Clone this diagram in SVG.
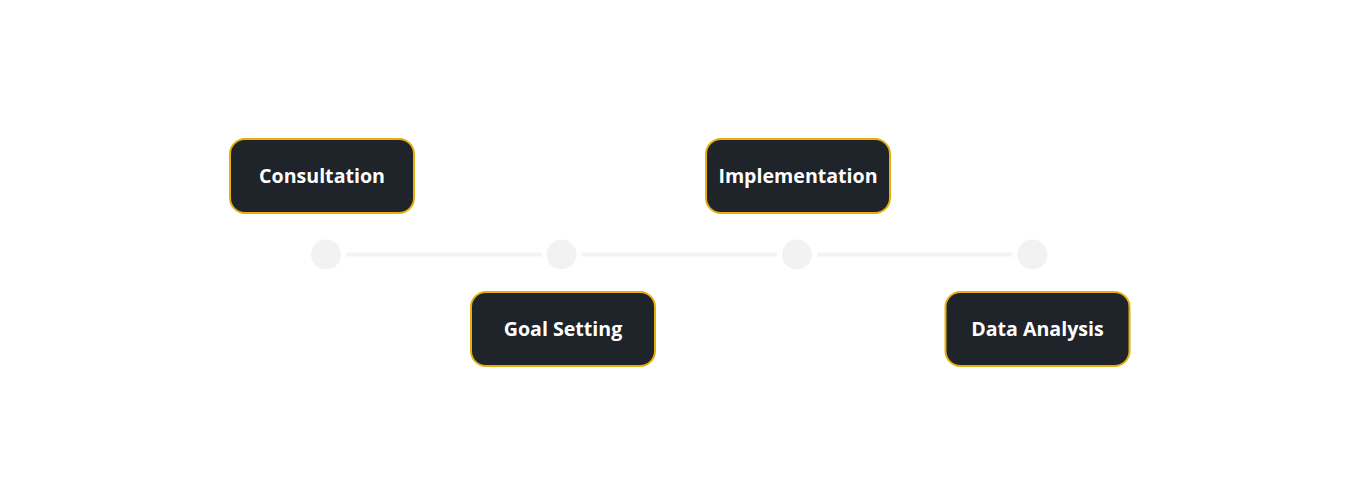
<svg xmlns="http://www.w3.org/2000/svg" width="1366" height="500" viewBox="0 0 1366 500">
<style>
.box{fill:#1f232a;stroke:#e6b00c;stroke-width:2}
.lbl{font-family:"Open Sans","Liberation Sans",sans-serif;font-weight:700;font-size:19.6px;fill:#ffffff;text-anchor:middle}
.dot{fill:#f2f2f2}
.line{stroke:#f3f3f3;stroke-width:4;fill:none}
</style>
<rect width="1366" height="500" fill="#ffffff"/>
<g id="connectors">
<line class="line" x1="346" y1="254.5" x2="542" y2="254.5"/>
<line class="line" x1="581.5" y1="254.5" x2="777" y2="254.5"/>
<line class="line" x1="817" y1="254.5" x2="1012.5" y2="254.5"/>
</g>
<g id="dots">
<circle class="dot" cx="326" cy="254.5" r="15"/>
<circle class="dot" cx="561.5" cy="254.5" r="15"/>
<circle class="dot" cx="797" cy="254.5" r="15"/>
<circle class="dot" cx="1032.5" cy="254.5" r="15"/>
</g>
<g id="consultation">
<rect class="box" x="230" y="139" width="184" height="74" rx="15"/>
<text class="lbl" x="322" y="183">Consultation</text>
</g>
<g id="goal-setting">
<rect class="box" x="471" y="292" width="184" height="74" rx="15"/>
<text class="lbl" x="563" y="336">Goal Setting</text>
</g>
<g id="implementation">
<rect class="box" x="706" y="139" width="184" height="74" rx="15"/>
<text class="lbl" x="798" y="183">Implementation</text>
</g>
<g id="data-analysis">
<rect class="box" x="945.5" y="292" width="184" height="74" rx="15"/>
<text class="lbl" x="1037.5" y="336">Data Analysis</text>
</g>
</svg>
